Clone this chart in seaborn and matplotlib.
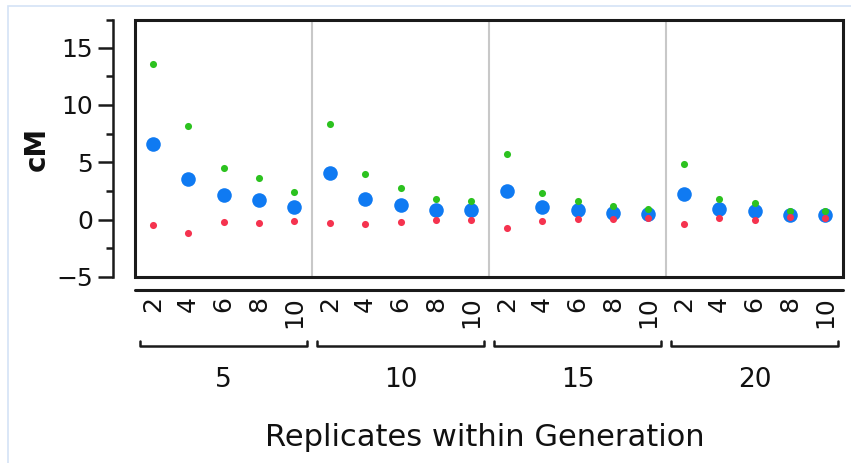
import numpy as np
import pandas as pd
import seaborn as sns
import matplotlib.pyplot as plt
from matplotlib.patches import Rectangle
import matplotlib.transforms as mtransforms

# data
generations = [5, 10, 15, 20]
replicates = [2, 4, 6, 8, 10]

mean_cm = [6.6, 3.5, 2.15, 1.7, 1.13,
           4.05, 1.8, 1.3, 0.87, 0.82,
           2.5, 1.13, 0.84, 0.61, 0.5,
           2.24, 0.93, 0.73, 0.41, 0.43]
upper_cm = [13.6, 8.2, 4.5, 3.6, 2.4,
            8.3, 4.0, 2.8, 1.8, 1.65,
            5.75, 2.35, 1.63, 1.17, 0.93,
            4.87, 1.77, 1.48, 0.73, 0.76]
lower_cm = [-0.43, -1.2, -0.17, -0.26, -0.09,
            -0.29, -0.37, -0.17, -0.03, -0.03,
            -0.7, -0.09, 0.03, 0.06, 0.15,
            -0.4, 0.15, -0.03, 0.21, 0.15]

n = len(generations) * len(replicates)
df = pd.DataFrame({
    'pos': np.arange(n),
    'generation': np.repeat(generations, len(replicates)),
    'replicates': np.tile(replicates, len(generations)),
    'mean': mean_cm,
    'upper': upper_cm,
    'lower': lower_cm,
})

sns.set_style('white')
plt.rcParams['font.family'] = ['DejaVu Sans']
plt.rcParams['text.color'] = '#111111'
plt.rcParams['axes.labelcolor'] = '#111111'
plt.rcParams['xtick.color'] = '#111111'
plt.rcParams['ytick.color'] = '#111111'

fig = plt.figure(figsize=(8.51, 4.63), dpi=100)
# light blue frame around the figure
fig.patches.append(Rectangle((8 / 851, -0.1), 1.2, 0.988 + 0.1, transform=fig.transFigure,
                             fill=False, edgecolor='#d4e3f6', lw=1.2))
ax = fig.add_axes([135 / 851, 1 - 277 / 463, (843 - 135) / 851, (277 - 20) / 463])

blue = '#0f7af2'
green = '#2cc21f'
red = '#f5334f'

sns.scatterplot(data=df, x='pos', y='mean', color=blue, s=110, linewidth=0, ax=ax, zorder=3)
sns.scatterplot(data=df, x='pos', y='upper', color=green, s=26, linewidth=0, ax=ax, zorder=4)
sns.scatterplot(data=df, x='pos', y='lower', color=red, s=26, linewidth=0, ax=ax, zorder=5)

ax.set_xlim(-0.5, n - 0.5)
ax.set_ylim(-5, 17.4)

# group dividers
for g in range(1, len(generations)):
    ax.axvline(g * len(replicates) - 0.5, color='#c8c8c8', lw=1.5, zorder=1)

# box around the plot area
for s in ax.spines.values():
    s.set_visible(False)
ax.add_patch(Rectangle((0, 0), 1, 1, transform=ax.transAxes, fill=False,
                       edgecolor='#1a1a1a', lw=2.2, clip_on=False, zorder=6))

# detached y axis
ax.spines['left'].set_visible(True)
ax.spines['left'].set_position(('outward', 16))
ax.spines['left'].set_linewidth(1.8)
ax.spines['left'].set_color('#1a1a1a')
ax.set_yticks([-5, 0, 5, 10, 15])
ax.set_yticks([-2.5, 2.5, 7.5, 12.5, 17.4], minor=True)
ax.tick_params(axis='y', which='major', length=11, width=1.8, color='#1a1a1a',
               labelsize=18, pad=3, left=True)
ax.tick_params(axis='y', which='minor', length=5, width=1.8, color='#1a1a1a', left=True)
ax.set_yticklabels(['\u22125', '0', '5', '10', '15'])
ax.set_ylabel('cM', fontsize=20, fontweight='bold', labelpad=4)

# x axis: replicate labels, then generation brackets
ax.set_xticks(df['pos'])
ax.set_xticklabels(df['replicates'], rotation=90, fontsize=18, va='top')
ax.tick_params(axis='x', length=0, pad=14)
ax.set_xlabel('')

trans = mtransforms.blended_transform_factory(ax.transData, ax.transAxes)
ax.plot([-0.5, n - 0.5], [-0.052, -0.052], transform=trans, color='#1a1a1a',
        lw=2.2, clip_on=False)
for i, g in enumerate(generations):
    x0 = i * len(replicates) - 0.36
    x1 = i * len(replicates) + len(replicates) - 1 + 0.36
    ax.plot([x0, x0, x1, x1], [-0.248, -0.268, -0.268, -0.248], transform=trans,
            color='#1a1a1a', lw=1.8, clip_on=False)
    ax.text((x0 + x1) / 2, -0.4, str(g), transform=trans, ha='center', va='center',
            fontsize=19)

fig.text(485 / 851, 1 - 437 / 463, 'Replicates within Generation', ha='center',
         va='center', fontsize=22)

fig.savefig('out.png', dpi=100)
